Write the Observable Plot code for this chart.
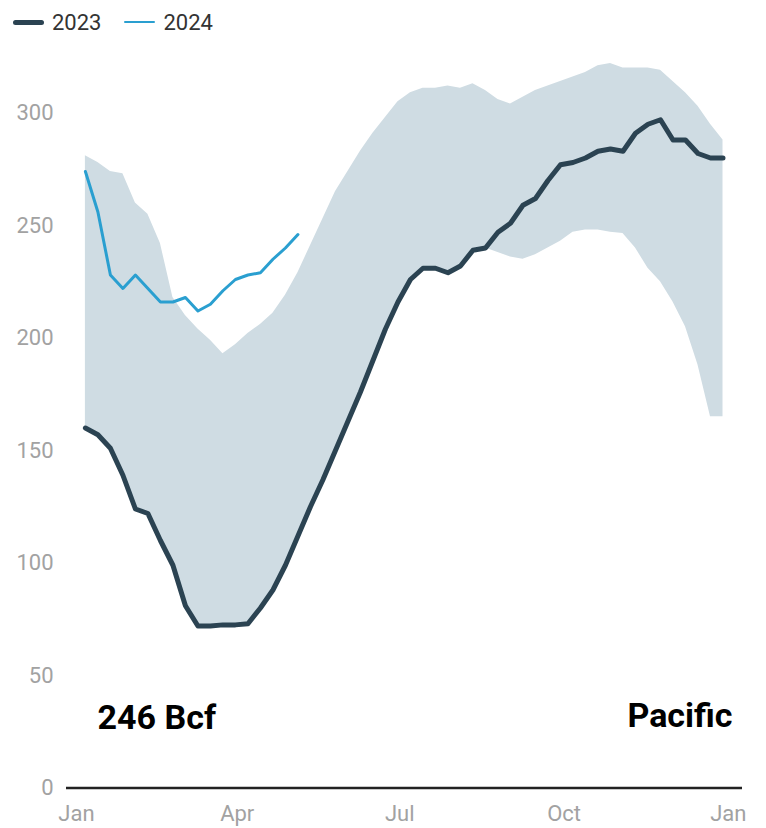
<!DOCTYPE html>
<html>
<head>
<meta charset="utf-8">
<script src="https://cdn.jsdelivr.net/npm/d3@7"></script>
<script src="https://cdn.jsdelivr.net/npm/@observablehq/plot@0.6"></script>
<style>
  html, body { margin: 0; padding: 0; background: #fff; }
  body { width: 766px; font-family: Roboto, "Open Sans", sans-serif; }
  #legend { height: 44px; display: flex; align-items: center; padding-left: 13px; font-size: 22px; color: #333; box-sizing: border-box; }
  .item { display: flex; align-items: center; margin-right: 23px; }
  .sw { width: 31px; border-radius: 3px; margin-right: 8px; }
  #chart svg { display: block; }
</style>
</head>
<body>
<div id="legend"></div>
<div id="chart"></div>
<script>
// Week-ending dates (placed on a common calendar year)
const weeks = [
  "2023-01-06","2023-01-13","2023-01-20","2023-01-27",
  "2023-02-03","2023-02-10","2023-02-17","2023-02-24",
  "2023-03-03","2023-03-10","2023-03-17","2023-03-24","2023-03-31",
  "2023-04-07","2023-04-14","2023-04-21","2023-04-28",
  "2023-05-05","2023-05-12","2023-05-19","2023-05-26",
  "2023-06-02","2023-06-09","2023-06-16","2023-06-23","2023-06-30",
  "2023-07-07","2023-07-14","2023-07-21","2023-07-28",
  "2023-08-04","2023-08-11","2023-08-18","2023-08-25",
  "2023-09-01","2023-09-08","2023-09-15","2023-09-22","2023-09-29",
  "2023-10-06","2023-10-13","2023-10-20","2023-10-27",
  "2023-11-03","2023-11-10","2023-11-17","2023-11-24",
  "2023-12-01","2023-12-08","2023-12-15","2023-12-22","2023-12-29"
];
// Working gas in storage, Bcf
const values2023 = [160,157,151,139,124,122,110,99,81,72,72,72.5,72.5,73,80,88,99,112,125,137,150,163,176,190,204,216,226,231,231,229,232,239,240,247,251,259,262,270,277,278,280,283,284,283,291,295,297,288,288,282,280,280];
const values2024 = [274,256,228,222,228,222,216,216,218,212,215,221,226,228,229,235,240,246];
// Five-year range
const rangeMin = [160,157,151,139,124,122,110,99,81,72,72,72.5,72.5,73,80,88,99,112,125,137,150,163,176,190,204,216,226,231,231,229,232,239,240,238,236,235,237,240,243,247,248,248,247,246.5,240,231,225,216,205,188,165,165];
const rangeMax = [281,278,274,273,260,255,242,218,210,204,199,193,197,202,206,211,219,229,241,253,265,274,283,291,298,305,309,311,311,312,311,313,310,306,304,307,310,312,314,316,318,321,322,320,320,320,319,314,309,303,295,288];

const seriesNames = ["2023", "2024"];
const seriesColors = ["#2b4352", "#2a9fd0"];
const seriesWidths = [5, 3];
const region = "Pacific";
const unit = "Bcf";

const xTickDates = ["2023-01-01","2023-04-01","2023-07-01","2023-10-01","2024-01-01"];
const xTickLabels = ["Jan","Apr","Jul","Oct","Jan"];
const yTicks = [0,50,100,150,200,250,300];

const rows = weeks.map((w, i) => ({date: new Date(w), min: rangeMin[i], max: rangeMax[i], v: values2023[i]}));
const rows24 = values2024.map((v, i) => ({date: new Date(weeks[i]), v}));
const latest = values2024[values2024.length - 1];

// Legend
const legend = document.getElementById("legend");
seriesNames.forEach((name, i) => {
  const item = document.createElement("div");
  item.className = "item";
  const sw = document.createElement("span");
  sw.className = "sw";
  sw.style.height = (i === 0 ? 5 : 2.5) + "px";
  sw.style.background = seriesColors[i];
  item.appendChild(sw);
  const t = document.createElement("span");
  t.textContent = name;
  item.appendChild(t);
  legend.appendChild(item);
});

const chart = Plot.plot({
  width: 766,
  height: 784,
  marginLeft: 66,
  marginRight: 24,
  marginTop: 68.5,
  marginBottom: 40.5,
  style: {fontFamily: "Roboto, sans-serif", fontSize: "22px", color: "#a2a2a2", background: "#fff"},
  x: {
    type: "utc",
    domain: [new Date("2022-12-26T10:00Z"), new Date("2024-01-08T22:00Z")],
    ticks: xTickDates.map(d => new Date(d)),
    tickFormat: (d, i) => xTickLabels[i],
    tickSize: 0,
    tickPadding: 17,
    label: null
  },
  y: {
    domain: [0, 300],
    ticks: yTicks,
    tickSize: 0,
    tickPadding: 13,
    label: null
  },
  marks: [
    Plot.areaY(rows, {x: "date", y1: "min", y2: "max", fill: "#cfdce3"}),
    Plot.ruleY([0], {stroke: "#222", strokeWidth: 2.5}),
    Plot.lineY(rows, {x: "date", y: "v", stroke: seriesColors[0], strokeWidth: seriesWidths[0]}),
    Plot.lineY(rows24, {x: "date", y: "v", stroke: seriesColors[1], strokeWidth: seriesWidths[1]}),
    Plot.text([`${latest} ${unit}`], {frameAnchor: "bottom-left", textAnchor: "start", lineAnchor: "bottom", dx: 31, dy: -59.5, fontSize: 34, fontWeight: "bold", fill: "#000"}),
    Plot.text([region], {frameAnchor: "bottom-right", textAnchor: "end", lineAnchor: "bottom", dx: -10, dy: -61.5, fontSize: 34, fontWeight: "bold", fill: "#000"})
  ]
});
document.getElementById("chart").appendChild(chart);
</script>
</body>
</html>
